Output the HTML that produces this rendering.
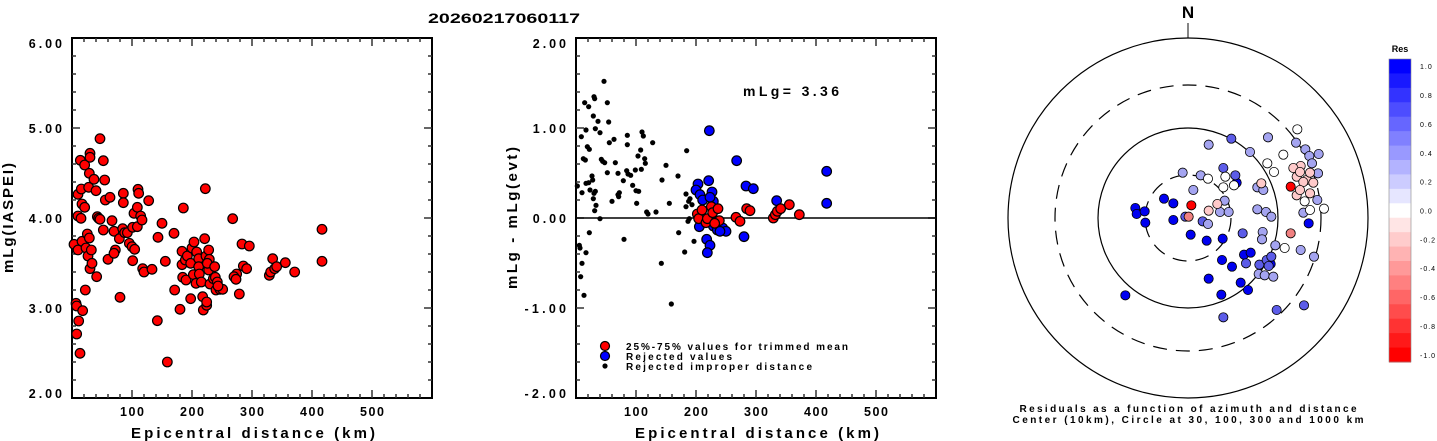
<!DOCTYPE html>
<html><head><meta charset="utf-8"><style>
html,body{margin:0;padding:0;background:#fff;}
svg{display:block;font-family:"Liberation Sans",Arial,sans-serif;font-weight:bold;}
</style></head><body>
<svg id="s" width="1437" height="441" xmlns="http://www.w3.org/2000/svg">
<rect width="1437" height="441" fill="#fff"/>
<text x="504" y="23" font-size="14" text-anchor="middle" textLength="152" lengthAdjust="spacingAndGlyphs">20260217060117</text>
<g id="L"></g><g id="M"></g><g id="R"></g>
</svg>
<script>
var NS="http://www.w3.org/2000/svg";
function el(p,t,a,txt){var e=document.createElementNS(NS,t);for(var k in a)e.setAttribute(k,a[k]);if(txt!=null)e.textContent=txt;p.appendChild(e);return e;}
function frame(g,x0,labels,ytitle,tl){
  var y0=38,w=360,h=360;
  el(g,'rect',{x:x0,y:y0,width:w,height:h,fill:'none',stroke:'#000','stroke-width':2});
  for(var i=1;i<30;i++){var x=x0+i*12,L=(i%5==0)?8:4;
    el(g,'line',{x1:x,y1:y0,x2:x,y2:y0+L,stroke:'#333','stroke-width':1.5});
    el(g,'line',{x1:x,y1:y0+h,x2:x,y2:y0+h-L,stroke:'#333','stroke-width':1.5});}
  for(var i=1;i<20;i++){var y=y0+i*18,L=(i%5==0)?8:4;
    el(g,'line',{x1:x0,y1:y,x2:x0+L,y2:y,stroke:'#333','stroke-width':1.5});
    el(g,'line',{x1:x0+w,y1:y,x2:x0+w-L,y2:y,stroke:'#333','stroke-width':1.5});}
  for(var k=1;k<=5;k++)el(g,'text',{x:x0+k*60,y:416,'font-size':12.5,'text-anchor':'middle',textLength:24,lengthAdjust:'spacing'},''+(k*100));
  for(var j=0;j<5;j++){var y=y0+j*90+5;if(j==0)y+=5;if(j==4)y-=5;
    var s=labels[j];
    el(g,'text',{x:x0-10,y:y,'font-size':12.5,'text-anchor':'end',textLength:s.length*8.3,lengthAdjust:'spacing'},s);}
  el(g,'text',{x:x0+181,y:438,'font-size':15,'text-anchor':'middle',textLength:244,lengthAdjust:'spacing'},'Epicentral distance (km)');
  el(g,'text',{x:0,y:0,'font-size':15,'text-anchor':'middle',transform:'translate('+(x0-59)+',218) rotate(-90)',textLength:tl,lengthAdjust:'spacing'},ytitle);
}
var L=document.getElementById('L'),M=document.getElementById('M'),R=document.getElementById('R');
frame(L,72,['6.00','5.00','4.00','3.00','2.00'],'mLg(IASPEI)',110);
frame(M,576,['2.00','1.00','0.00','-1.00','-2.00'],'mLg - mLg(evt)',142);
var lp=[222,733,234,750,228,910,230,918,236,963,230,1002,240,1060,248,932,241,481,234,583,244,567,246,612,254,622,234,648,243,655,246,724,258,744,256,870,254,495,270,460,270,472,268,520,266,562,282,538,288,572,262,702,268,714,264,768,270,806,276,790,274,750,292,650,296,655,300,658,290,830,300,416,310,482,314,540,316,600,330,592,310,690,324,778,336,662,342,694,346,750,342,760,358,716,360,892,370,580,370,608,368,686,374,698,382,698,388,730,396,740,398,682,404,748,398,782,402,640,412,622,414,568,416,580,412,680,422,648,426,660,428,806,432,816,446,602,456,808,474,712,472,962,486,670,496,784,502,1086,522,700,524,870,540,928,550,624,546,754,546,794,556,780,548,832,558,840,562,768,572,790,572,896,576,744,582,726,580,824,588,850,590,756,596,776,596,800,598,822,604,846,608,890,610,930,614,716,616,566,618,768,620,916,620,906,626,750,628,778,626,810,622,790,630,852,640,836,644,800,646,832,648,870,652,846,660,868,668,868,654,858,698,656,710,822,702,830,708,838,718,882,726,732,730,798,740,806,748,738,808,826,818,776,812,816,824,806,830,800,856,788,884,816,966,688,966,784];
for(var i=0;i<lp.length;i+=2)el(L,'circle',{cx:lp[i]/3,cy:lp[i+1]/3,r:4.8,fill:'#f00',stroke:'#000','stroke-width':1.2});
el(M,'line',{x1:576,y1:218,x2:936,y2:218,stroke:'#000','stroke-width':1.5});
var bk=[292,558,306,578,304,410,314,308,326,320,318,390,310,476,316,480,322,440,328,448,318,550,326,548,330,570,336,528,338,540,340,596,342,580,346,574,348,616,344,632,342,290,344,296,340,348,346,386,354,364,360,398,364,478,368,484,374,488,372,244,382,308,386,366,382,518,388,428,396,604,402,418,406,488,414,520,416,590,418,578,414,584,430,542,442,406,442,434,440,512,444,522,452,526,458,556,466,510,468,572,474,468,476,574,470,610,484,508,482,450,486,396,490,408,494,476,496,490,500,636,504,642,518,428,528,636,546,540,558,496,568,610,594,528,596,698,620,452,618,582,626,604,630,596,636,614,642,724,618,620,624,664,628,656,614,756,360,656,328,698,432,718,298,736,300,744,318,758,306,790,302,830,312,886,544,790,574,912];
for(var i=0;i<bk.length;i+=2)el(M,'circle',{cx:480+bk[i]/3,cy:bk[i+1]/3,r:2.6,fill:'#000'});
var bl=[688,392,770,482,1040,514,1040,610,686,542,654,552,648,570,660,584,668,600,696,576,700,604,690,592,798,558,820,566,890,602,658,680,700,678,680,718,690,736,682,758,712,690,728,684,738,694,792,710,720,694];
var rd=[652,642,656,656,666,630,678,668,682,656,694,620,698,638,714,626,718,662,768,652,780,664,800,626,810,632,880,654,886,644,892,634,902,626,928,614,958,644,704,670];
for(var i=0;i<bl.length;i+=2)el(M,'circle',{cx:480+bl[i]/3,cy:bl[i+1]/3,r:4.8,fill:'#00f',stroke:'#000','stroke-width':1.2});
for(var i=0;i<rd.length;i+=2)el(M,'circle',{cx:480+rd[i]/3,cy:rd[i+1]/3,r:4.8,fill:'#f00',stroke:'#000','stroke-width':1.2});
el(M,'text',{x:743,y:96,'font-size':14,textLength:96,lengthAdjust:'spacing'},'mLg= 3.36');
el(M,'circle',{cx:605,cy:346,r:4.5,fill:'#f00',stroke:'#000','stroke-width':1.2});
el(M,'circle',{cx:605,cy:356,r:4.5,fill:'#00f',stroke:'#000','stroke-width':1.2});
el(M,'circle',{cx:605,cy:366,r:2.6,fill:'#000'});
el(M,'text',{x:626,y:350,'font-size':10,textLength:222,lengthAdjust:'spacing'},'25%-75% values for trimmed mean');
el(M,'text',{x:626,y:360,'font-size':10,textLength:106,lengthAdjust:'spacing'},'Rejected values');
el(M,'text',{x:626,y:370,'font-size':10,textLength:186,lengthAdjust:'spacing'},'Rejected improper distance');
var cx=1188,cy=218;
el(R,'text',{x:cx,y:18,'font-size':17,'text-anchor':'middle'},'N');
el(R,'line',{x1:cx,y1:23,x2:cx,y2:38,stroke:'#333','stroke-width':1.2});
el(R,'circle',{cx:cx,cy:cy,r:180,fill:'none',stroke:'#000','stroke-width':1.2});
el(R,'circle',{cx:cx,cy:cy,r:133,fill:'none',stroke:'#000','stroke-width':1.2,'stroke-dasharray':'14,9'});
el(R,'circle',{cx:cx,cy:cy,r:90,fill:'none',stroke:'#000','stroke-width':1.2});
el(R,'circle',{cx:cx,cy:cy,r:43,fill:'none',stroke:'#000','stroke-width':1.2,'stroke-dasharray':'14,9'});
var groups=[
['#0000f0',[436,624,440,642,464,634,466,668,522,596,550,610,550,660,602,704,650,722,698,716,696,780,726,800,656,836,694,884,752,848,774,870,406,886,740,548,956,670,842,792,762,764,782,758]],
['#5c5ce8',[586,650,638,664,724,416,700,504,736,526,758,700,768,790,808,794,830,780,836,798,860,930,942,916,700,952,844,770]],
['#a4a4f0',[656,434,578,518,610,570,632,526,654,672,690,636,716,636,704,602,780,456,834,412,802,562,820,570,802,628,828,636,844,650,818,696,816,718,856,736,932,750,972,770,806,822,824,826,850,830,946,448,986,462,958,468,918,428,940,638,982,600,966,490,984,520]],
['#ffffff',[654,536,706,530,732,556,700,562,832,490,852,516,880,464,922,388,884,744,1002,626,960,630,944,604]],
['#ffcaca',[814,550,682,612,656,632,920,530,932,498,950,540,960,518,940,546,970,548,920,586,930,570,960,580,910,504,930,516]],
['#f08080',[902,700,596,650]],
['#ff0000',[604,616,902,560]]];
groups.forEach(function(g){var p=g[1];for(var i=0;i<p.length;i+=2)el(R,'circle',{cx:990+p[i]/3,cy:p[i+1]/3,r:4.6,fill:g[0],stroke:'#000','stroke-width':0.8});});
el(R,'text',{x:1188,y:412,'font-size':10,'text-anchor':'middle',textLength:337,lengthAdjust:'spacing'},'Residuals as a function of azimuth and distance');
el(R,'text',{x:1188,y:423,'font-size':10,'text-anchor':'middle',textLength:351,lengthAdjust:'spacing'},'Center (10km), Circle at 30, 100, 300 and 1000 km');
el(R,'text',{x:1400,y:52,'font-size':9,'text-anchor':'middle'},'Res');
var y0=59,ch=(362-59)/21;
for(var k=0;k<21;k++){var v=1-k*0.1,c;
  if(v>=0){var t=Math.round(255*(1-v));c='rgb('+t+','+t+',255)';}else{var t=Math.round(255*(1+v));c='rgb(255,'+t+','+t+')';}
  el(R,'rect',{x:1389,y:y0+k*ch,width:22,height:ch+0.5,fill:c});}
el(R,'rect',{x:1389,y:y0,width:22,height:362-59,fill:'none',stroke:'#888','stroke-width':0.6});
var lab=['1.0','0.8','0.6','0.4','0.2','0.0','-0.2','-0.4','-0.6','-0.8','-1.0'];
for(var k=0;k<11;k++)el(R,'text',{x:1420,y:y0+(2*k+0.5)*ch+3,'font-size':7,'letter-spacing':1,'font-weight':'normal'},lab[k]);
</script>
</body></html>
